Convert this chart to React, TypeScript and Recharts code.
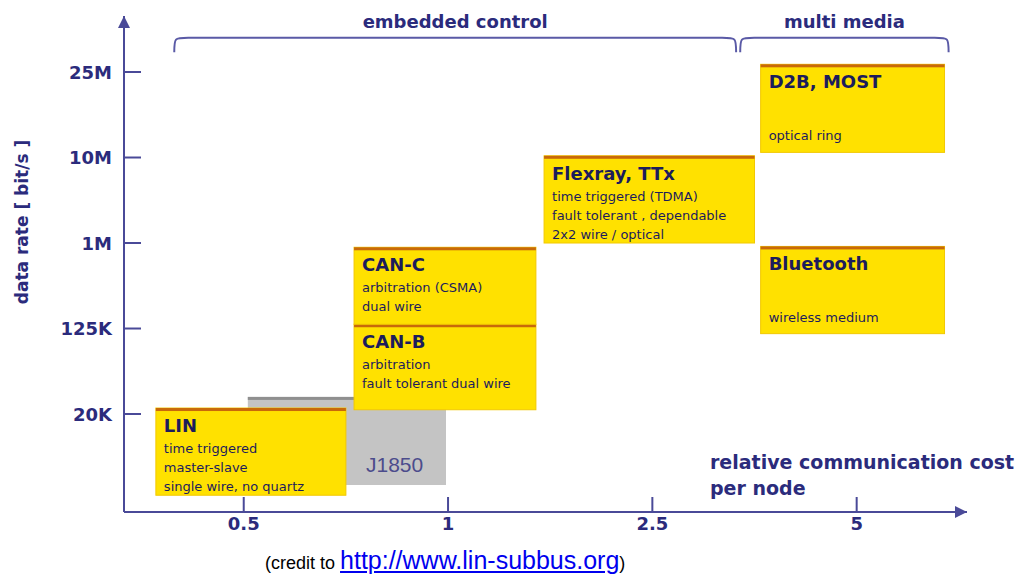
import React from "react";
import { ComposedChart, XAxis, YAxis, ReferenceArea } from "recharts";

// axis positions are index slots, labels are what the slide prints
const costTicks = [1, 2, 3, 4];
const costLabels = ["0.5", "1", "2.5", "5"];
const rateTicks = [1, 2, 3, 4, 5];
const rateLabels = ["20K", "125K", "1M", "10M", "25M"];

// bus systems: cost span, rate span, title, notes
const busNames = ["J1850", "LIN", "CAN-B", "CAN-C", "Flexray, TTx", "D2B, MOST", "Bluetooth"];
const busCost = [
  [1.02, 1.99],
  [0.57, 1.5],
  [1.54, 2.43],
  [1.54, 2.43],
  [2.47, 3.5],
  [3.53, 4.43],
  [3.53, 4.43],
];
const busRate = [
  [0.17, 1.2],
  [0.05, 1.07],
  [1.05, 2.05],
  [2.05, 2.95],
  [3.0, 4.02],
  [4.06, 5.09],
  [1.94, 2.96],
];
const busNotes = [
  [],
  ["time triggered", "master-slave", "single wire, no quartz"],
  ["arbitration", "fault tolerant dual wire"],
  ["arbitration (CSMA)", "dual wire"],
  ["time triggered (TDMA)", "fault tolerant , dependable", "2x2 wire / optical"],
  ["optical ring"],
  ["wireless medium"],
];

const groupNames = ["embedded control", "multi media"];
const groupCost = [
  [0.66, 3.41],
  [3.43, 4.45],
];
const groupRate = [5.23, 5.4];

const NAVY = "#2b2b7c";
const AXIS = "#4a4a98";
const TEXT_DARK = "#1c1c5c";
const FONT = "'DejaVu Sans', Verdana, sans-serif";

const YTick = (p: any) => {
  const i = rateTicks.indexOf(p.payload.value);
  return (
    <g>
      <line x1={p.x} x2={p.x + 17} y1={p.y} y2={p.y} stroke={AXIS} strokeWidth={2} />
      <text x={p.x - 12} y={p.y} dy={6.5} textAnchor="end" fill={NAVY} fontSize={18} fontWeight="bold" fontFamily={FONT}>
        {rateLabels[i]}
      </text>
    </g>
  );
};

const XTick = (p: any) => {
  const i = costTicks.indexOf(p.payload.value);
  return (
    <g>
      <line x1={p.x} x2={p.x} y1={p.y - 15} y2={p.y} stroke={AXIS} strokeWidth={2} />
      <text x={p.x} y={p.y} dy={18} textAnchor="middle" fill={NAVY} fontSize={18} fontWeight="bold" fontFamily={FONT}>
        {costLabels[i]}
      </text>
    </g>
  );
};

const busShape = (i: number) => (p: any) => {
  const { x, y, width, height } = p;
  const name = busNames[i];
  const notes = busNotes[i];
  if (name === "J1850") {
    return (
      <g>
        <rect x={x} y={y} width={width} height={height} fill="#c4c4c4" />
        <rect x={x} y={y} width={width} height={3} fill="#8f8f8f" />
        <text x={x + width - 80} y={y + height - 13} fill="#4c4c8c" fontSize={21} fontFamily="'Liberation Sans', Arial, sans-serif">
          {name}
        </text>
      </g>
    );
  }
  const tx = x + 8;
  return (
    <g>
      <rect x={x} y={y} width={width} height={height} fill="#ffe100" stroke="#f2c800" strokeWidth={1} />
      <rect x={x} y={y} width={width} height={3} fill="#c8690a" />
      <text x={tx} y={y + 24} fill={TEXT_DARK} fontSize={18} fontWeight="bold" fontFamily={FONT}>
        {name}
      </text>
      {notes.length === 1 ? (
        <text x={tx} y={y + height - 12} fill={TEXT_DARK} fontSize={13} fontFamily={FONT}>
          {notes[0]}
        </text>
      ) : (
        notes.map((n, k) => (
          <text key={k} x={tx} y={y + 45 + k * 19} fill={TEXT_DARK} fontSize={13} fontFamily={FONT}>
            {n}
          </text>
        ))
      )}
    </g>
  );
};

const braceShape = (i: number) => (p: any) => {
  const { x, y, width, height } = p;
  const r = 14;
  const d = `M${x},${y + height} C${x},${y} ${x},${y} ${x + r},${y} L${x + width - r},${y} C${x + width},${y} ${x + width},${y} ${x + width},${y + height}`;
  return (
    <g>
      <path d={d} fill="none" stroke="#5a5aa6" strokeWidth={2} />
      <text x={x + width / 2} y={y - 10} textAnchor="middle" fill={NAVY} fontSize={18} fontWeight="bold" fontFamily={FONT}>
        {groupNames[i]}
      </text>
    </g>
  );
};

const xAxisLabel = (p: any) => {
  const vb = p.viewBox;
  const lx = vb.x + vb.width - 257;
  return (
    <g>
      <text x={lx} y={vb.y - 43} fill={NAVY} fontSize={19} fontWeight="bold" fontFamily={FONT}>
        relative communication cost
      </text>
      <text x={lx} y={vb.y - 17} fill={NAVY} fontSize={19} fontWeight="bold" fontFamily={FONT}>
        per node
      </text>
    </g>
  );
};

const yAxisLabel = (p: any) => {
  const vb = p.viewBox;
  const cx = vb.x - 36;
  const cy = vb.y + vb.height / 2 - 42;
  return (
    <text x={cx} y={cy} transform={`rotate(-90 ${cx} ${cy})`} textAnchor="middle" fill={NAVY} fontSize={17} fontWeight="bold" fontFamily={FONT}>
      data rate [ bit/s ]
    </text>
  );
};

export default function App() {
  return (
    <div style={{ position: "absolute", left: 0, top: 0, width: 1024, height: 576, background: "#fff" }}>
      <ComposedChart width={1024} height={576} data={[]} margin={{ top: 16, right: 57, bottom: 34, left: 64 }}>
        <defs>
          <marker id="axArrow" viewBox="0 0 12 12" refX="12" refY="6" markerWidth="12" markerHeight="12" orient="auto-start-reverse" markerUnits="userSpaceOnUse">
            <path d="M0,0 L12,6 L0,12 z" fill={AXIS} />
          </marker>
        </defs>
        <XAxis
          type="number"
          dataKey="x"
          domain={[0.414, 4.54]}
          allowDataOverflow
          ticks={costTicks}
          interval={0}
          tickSize={0}
          tickMargin={0}
          tickLine={false}
          height={30}
          axisLine={{ stroke: AXIS, strokeWidth: 2, markerEnd: "url(#axArrow)" }}
          tick={<XTick />}
          label={{ content: xAxisLabel }}
        />
        <YAxis
          type="number"
          dataKey="y"
          domain={[-0.146, 5.655]}
          allowDataOverflow
          ticks={rateTicks}
          interval={0}
          tickSize={0}
          tickMargin={0}
          tickLine={false}
          width={60}
          axisLine={{ stroke: AXIS, strokeWidth: 2, markerStart: "url(#axArrow)" }}
          tick={<YTick />}
          label={{ content: yAxisLabel }}
        />
        {groupNames.map((g, i) => (
          <ReferenceArea
            key={g}
            x1={groupCost[i][0]}
            x2={groupCost[i][1]}
            y1={groupRate[0]}
            y2={groupRate[1]}
            shape={braceShape(i)}
          />
        ))}
        {busNames.map((b, i) => (
          <ReferenceArea
            key={b}
            x1={busCost[i][0]}
            x2={busCost[i][1]}
            y1={busRate[i][0]}
            y2={busRate[i][1]}
            shape={busShape(i)}
          />
        ))}
      </ComposedChart>
      <div
        style={{
          position: "absolute",
          left: 265,
          top: 545,
          whiteSpace: "nowrap",
          fontFamily: "'Liberation Sans', Arial, sans-serif",
          lineHeight: "30px",
          color: "#000",
        }}
      >
        <span style={{ fontSize: 18 }}>(credit to </span>
        <a href="http://www.lin-subbus.org" style={{ fontSize: 25, color: "#0000ee" }}>
          http://www.lin-subbus.org
        </a>
        <span style={{ fontSize: 18 }}>)</span>
      </div>
    </div>
  );
}
